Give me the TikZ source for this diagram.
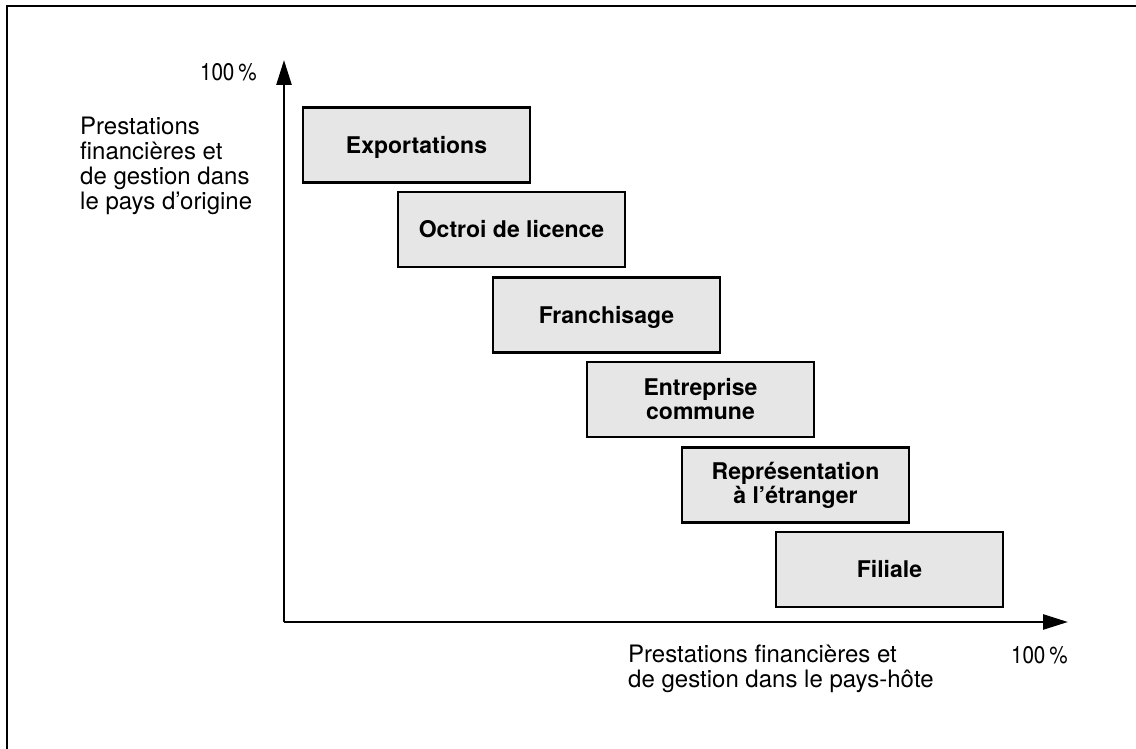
\documentclass[tikz,border=0pt]{standalone}
\usepackage{fontspec}
\setmainfont{TeX Gyre Heros}
\newfontfamily\pctfont{TeX Gyre Heros}[FakeStretch=0.86]
\usetikzlibrary{arrows.meta}

\definecolor{boxgray}{HTML}{E6E6E6}
\tikzset{
  frameline/.style={line width=2.8pt, line cap=rect},
  axis/.style={line width=2.6pt, -{Triangle[length=25pt,width=15pt]}},
  modebox/.style={draw, line width=2.6pt, fill=boxgray, minimum width=227pt,
    minimum height=75pt, inner sep=0pt, align=center,
    font=\fontsize{23}{24}\selectfont\bfseries},
  oneline/.style={text height=16.5pt, text depth=0pt},
  axislabel/.style={inner sep=0pt, align=left, font=\fontsize{24}{25}\selectfont},
  pct/.style={inner sep=0pt, font=\fontsize{24}{25}\selectfont\pctfont}
}

\begin{document}
\begin{tikzpicture}[x=1pt, y=-1pt]
  \useasboundingbox (0,0) rectangle (1136,749);

  % partial frame: left and top edges
  \coordinate (fbl) at (7,749);
  \coordinate (ftl) at (7,6);
  \coordinate (ftr) at (1136,6);
  \draw[frameline] (fbl) -- (ftl) -- (ftr);

  % axes
  \coordinate (origin) at (284,622);
  \coordinate (ytip) at (284,60);
  \coordinate (xtip) at (1068,622);
  \draw[axis] (origin) -- (ytip);
  \draw[axis] (origin) -- (xtip);

  % axis labels
  \node[pct, anchor=base east] (ypct) at (257,81) {100\,\%};
  \node[axislabel, anchor=north west] (ylabel) at (80,116.5)
    {Prestations\\financières et\\de gestion dans\\le pays d’origine};
  \node[axislabel, anchor=north west] (xlabel) at (628,644.3)
    {Prestations financières et\\de gestion dans le pays-hôte};
  \node[pct, anchor=base east] (xpct) at (1068,663) {100\,\%};

  % forms of foreign market entry
  \node[modebox, oneline] (exp) at (416.5,145) {Exportations};
  \node[modebox, oneline] (lic) at (511.5,229.5) {Octroi de licence};
  \node[modebox, oneline] (fra) at (606.5,315) {Franchisage};
  \node[modebox] (jv)  at (700.5,399.5) {Entreprise\\commune};
  \node[modebox] (rep) at (795.5,485) {Représentation\\à l’étranger};
  \node[modebox, oneline] (fil) at (889.5,569.5) {Filiale};
\end{tikzpicture}
\end{document}
